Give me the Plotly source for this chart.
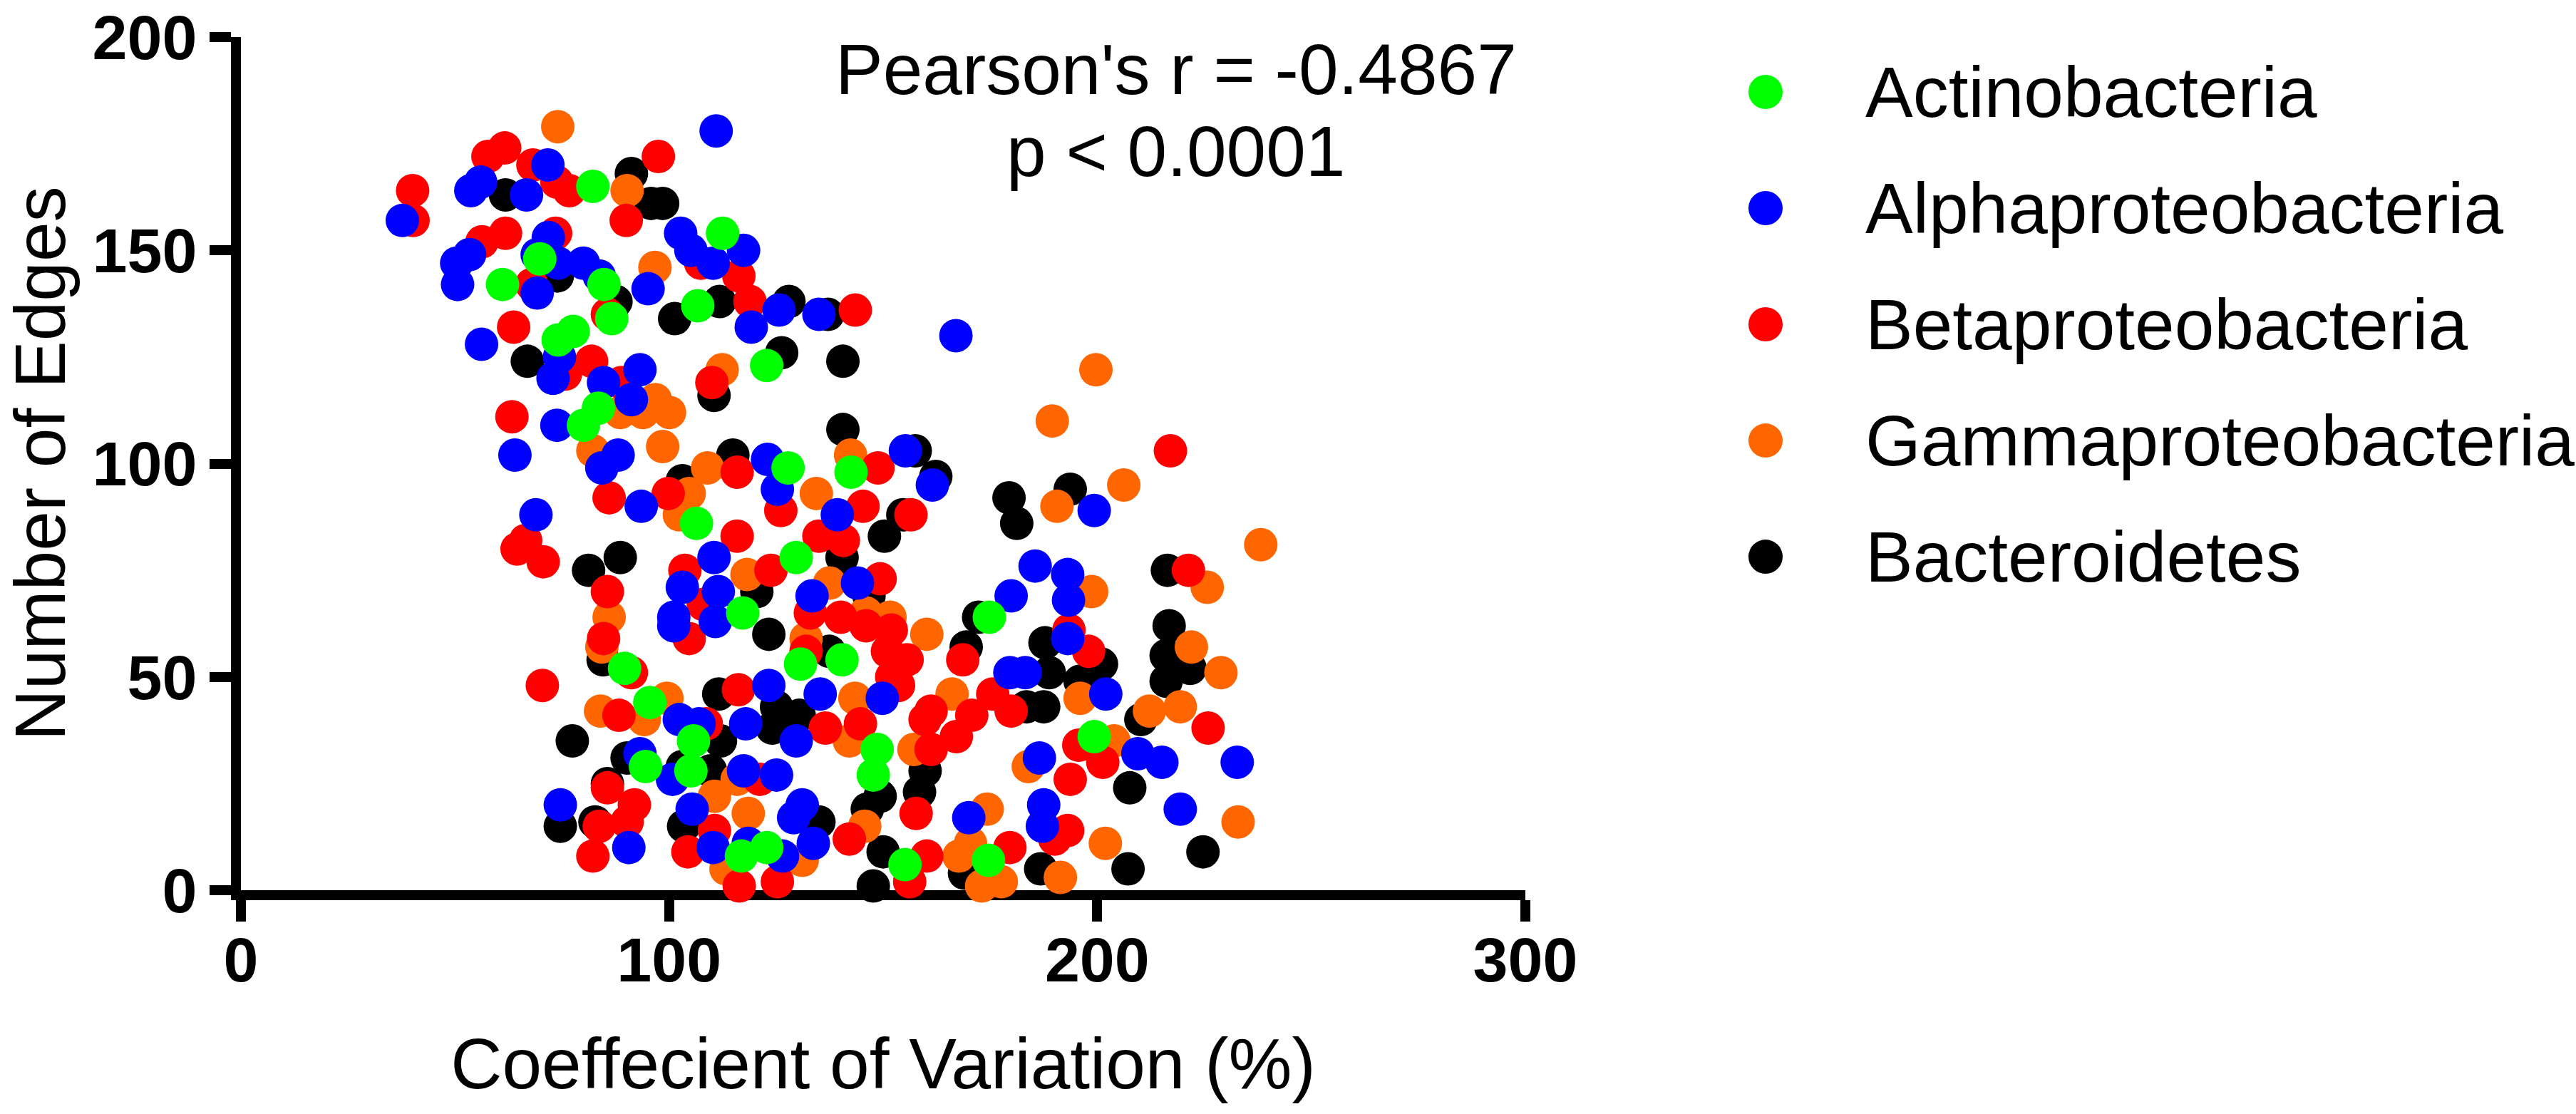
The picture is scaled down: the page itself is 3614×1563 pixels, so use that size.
import plotly.graph_objects as go

# taxa and their colours (legend order)
categories = ["Actinobacteria", "Alphaproteobacteria", "Betaproteobacteria",
              "Gammaproteobacteria", "Bacteroidetes"]
colors = ["#00ff00", "#0000ff", "#ff0000", "#ff6600", "#000000"]

# coefficient of variation (%) / number of edges, per taxon
actino_cv = [82.2, 112.5, 69.8, 61.1, 84.8, 86.6, 106.7, 74.1, 77.6, 83.5, 80.0, 122.8,
             127.8, 142.5, 106.4, 129.7, 117.2, 130.7, 89.6, 95.5, 94.5, 105.7, 105.1,
             116.9, 122.8, 174.8, 140.4, 148.6, 147.7, 155.1, 174.6, 199.3]
actino_edges = [165, 154, 148, 142, 142, 134, 137, 129, 131, 113, 109, 123,
                99, 98, 86, 78, 65, 53, 52, 44, 29, 35, 28,
                8, 10, 64, 54, 33, 27, 6, 7, 36]

alpha_cv = [111.0, 71.7, 37.7, 53.7, 56.0, 66.7, 71.8, 53.4, 50.4, 50.6, 69.2, 69.2,
            74.1, 80.0, 83.7, 95.1, 102.7, 105.1, 110.3, 117.4, 125.7, 119.2, 135.0,
            56.2, 74.4, 72.9, 84.7, 93.2, 91.2, 73.8, 64.0, 88.1, 84.3, 123.0, 125.3, 93.5,
            167.0, 155.2, 161.5,
            68.9, 110.5, 103.1, 111.5, 101.1, 101.1, 110.8, 133.4, 135.3, 102.4, 107.0,
            100.8, 123.3, 117.9, 129.7, 117.4, 125.1, 90.6, 74.6, 93.2, 105.4, 110.3,
            118.5, 126.5, 131.1, 129.1, 133.7,
            139.3, 144.0, 149.8, 185.5, 193.1, 193.3, 179.9, 193.1, 179.6, 183.2, 202.0,
            170.0, 187.5, 187.2, 186.5, 209.5, 215.1, 219.4, 232.7, 199.3]
alpha_edges = [178, 170, 157, 164, 166, 163, 153, 149, 147, 142, 149, 140,
               147, 147, 144, 141, 154, 150, 147, 150, 136, 132, 135,
               128, 125, 120, 119, 122, 115, 109, 102, 102, 99, 101, 94, 90,
               130, 103, 95,
               88, 78, 71, 70, 64, 62, 63, 69, 46, 40, 39,
               26, 48, 39, 35, 28, 27, 10, 20, 32, 19, 10,
               11, 8, 20, 17, 11,
               88, 72, 45, 76, 74, 68, 69, 59, 51, 51, 46,
               17, 20, 15, 31, 32, 30, 19, 30, 89]

beta_cv = [57.7, 61.6, 68.2, 73.8, 76.7, 97.5, 90.0, 40.1, 40.2, 56.3, 61.8, 73.5, 67.9,
           85.6, 107.4, 116.3, 118.9, 63.7, 75.8, 81.9, 88.9, 63.3, 110.0, 115.9, 99.8, 86.0,
           143.5, 217.1, 148.8,
           64.5, 66.5, 70.6, 85.6, 84.7, 91.2, 70.4, 88.3, 108.7, 116.2, 121.2, 85.6, 91.9,
           90.2, 83.7, 82.2, 104.4, 110.6, 116.4, 125.3, 115.9, 103.7, 108.0, 104.7, 123.8,
           126.1, 135.0, 133.0, 132.0, 136.5,
           145.3, 156.5, 140.7, 149.3, 140.1, 146.0, 151.9, 155.6, 153.6, 144.7, 161.2,
           159.8, 161.2, 167.1, 170.7, 175.6, 179.9, 168.6, 157.7, 142.1, 160.2, 156.2,
           179.6, 193.4, 198.0, 221.3, 225.9, 193.7, 195.7, 201.3, 193.1, 190.1, 152.0, 151.0]
beta_edges = [172, 174, 170, 166, 164, 172, 157, 164, 157, 152, 154, 154, 142,
              135, 147, 144, 138, 132, 121, 124, 119, 111, 119, 98, 93, 92,
              136, 103, 99,
              80, 82, 77, 70, 59, 51, 48, 41, 39, 47, 26, 24, 20,
              16, 15, 8, 9, 14, 1, 2, 83, 75, 67, 59, 75,
              89, 83, 65, 56, 38,
              90, 88, 82, 73, 64, 62, 61, 54, 48, 39, 42,
              40, 33, 36, 41, 46, 42, 54, 18, 12, 8, 2,
              10, 61, 56, 75, 38, 26, 34, 30, 14, 12, 50, 56]

gamma_cv = [74.0, 90.2, 96.7, 112.4, 96.8, 100.1, 93.9, 88.6, 82.2, 98.5, 109.0, 104.7, 134.4,
            199.7, 189.5, 142.4, 190.6, 206.2,
            86.0, 84.3, 84.0, 94.2, 99.5, 115.9, 110.6, 131.1, 113.3, 118.5, 102.4, 118.2, 132.0,
            238.2, 225.7, 198.7, 196.0, 222.0, 228.9, 212.2, 219.4, 157.2, 166.1,
            160.2, 146.0, 151.6, 137.5, 143.4, 142.1, 145.7, 174.3, 170.4, 167.7,
            173.0, 177.6, 183.9, 203.9, 201.9, 191.4, 232.9]
gamma_edges = [179, 164, 146, 122, 115, 112, 112, 112, 103, 104, 99, 93, 93,
               122, 110, 102, 90, 95,
               64, 57, 42, 40, 45, 26, 22, 7, 5, 18, 88, 74, 59,
               81, 71, 70, 45, 57, 51, 42, 43, 33, 46,
               60, 65, 64, 72, 45, 35, 15, 19, 11, 8,
               1, 2, 29, 35, 11, 3, 16]

bact_cv = [91.2, 95.8, 98.5, 61.8, 73.9, 87.6, 111.8, 101.3, 128.0, 66.9, 126.3, 110.5,
           114.9, 103.1,
           137.1, 140.6, 140.6, 157.5, 162.3, 179.4, 193.7,
           81.2, 88.6, 84.6, 77.4, 90.2, 112.0, 109.7, 103.1, 111.6, 125.1,
           124.1, 130.4, 85.6, 82.7, 74.6, 103.4, 135.0, 120.5, 123.3,
           181.2, 154.6, 150.3, 140.4, 146.7, 216.4, 172.3, 187.8, 201.0, 188.8,
           196.0, 169.4, 216.8, 216.1, 221.7, 216.1, 210.2, 187.5, 183.5, 137.4,
           149.3, 146.3, 159.8, 158.5, 150.0, 147.7, 169.0, 207.6, 207.2, 224.7, 186.8]
bact_edges = [168, 161, 161, 163, 144, 138, 138, 134, 138, 124, 126, 116,
              102, 96,
              135, 124, 108, 103, 97, 92, 94,
              75, 78, 54, 35, 31, 35, 28, 29, 46, 43,
              38, 41, 25, 16, 15, 15, 16, 70, 60,
              86, 88, 83, 78, 69, 75, 64, 58, 53, 51,
              49, 57, 62, 55, 52, 49, 40, 43, 43, 56,
              22, 19, 28, 23, 9, 1, 4, 24, 5, 9, 5]

series = [(actino_cv, actino_edges), (alpha_cv, alpha_edges), (beta_cv, beta_edges),
          (gamma_cv, gamma_edges), (bact_cv, bact_edges)]

font_family = "Liberation Sans, Arial, sans-serif"

fig = go.Figure()

# draw Bacteroidetes first so Actinobacteria ends up on top
for name, color, (cv, edges) in reversed(list(zip(categories, colors, series))):
    fig.add_trace(go.Scatter(
        x=cv, y=edges, mode="markers", name=name,
        marker=dict(size=47, color=color, line_width=0),
        cliponaxis=False,
    ))

axis_common = dict(
    showline=True, linewidth=14, linecolor="black",
    ticks="outside", ticklen=30, tickwidth=14, tickcolor="black",
    showgrid=False, zeroline=False, layer="below traces",
    automargin=False, ticklabeloverflow="allow",
    tickfont=dict(family=font_family, size=88, color="black", weight="bold"),
)

fig.update_xaxes(range=[0, 300], tickvals=[0, 100, 200, 300],
                 ticklabelstandoff=-22,
                 title=dict(text="Coeffecient of Variation (%)", standoff=68,
                            font=dict(family=font_family, size=100, color="black")),
                 **axis_common)
fig.update_yaxes(range=[0, 200], tickvals=[0, 50, 100, 150, 200],
                 title=dict(text="Number of Edges", standoff=44,
                            font=dict(family=font_family, size=100, color="black")),
                 **axis_common)

# correlation text
fig.add_annotation(x=0.728, y=0.962, xref="paper", yref="paper", showarrow=False,
                   text="Pearson's r = -0.4867", xanchor="center", yanchor="middle",
                   font=dict(family=font_family, size=100, color="black"))
fig.add_annotation(x=0.728, y=0.8667, xref="paper", yref="paper", showarrow=False,
                   text="p &lt; 0.0001", xanchor="center", yanchor="middle",
                   font=dict(family=font_family, size=100, color="black"))

# legend drawn by hand so the dots keep their full size
for i, (name, color) in enumerate(zip(categories, colors)):
    ly = 0.9357 - i * 0.1362
    fig.add_shape(type="circle", xref="paper", yref="paper",
                  xsizemode="pixel", ysizemode="pixel",
                  xanchor=1.187, yanchor=ly, x0=-24, x1=24, y0=-24, y1=24,
                  fillcolor=color, line_width=0)
    fig.add_annotation(x=1.2636, y=ly, xref="paper", yref="paper", showarrow=False,
                       text=name, xanchor="left", yanchor="middle",
                       font=dict(family=font_family, size=100, color="black"))

fig.update_layout(
    width=3614, height=1563,
    margin=dict(l=338, r=1474, t=52, b=314),
    plot_bgcolor="white", paper_bgcolor="white",
    showlegend=False,
    font=dict(family=font_family, color="black"),
)

fig.write_html("out.html", config={"displayModeBar": False},
               post_script="document.body.style.margin='0';")
